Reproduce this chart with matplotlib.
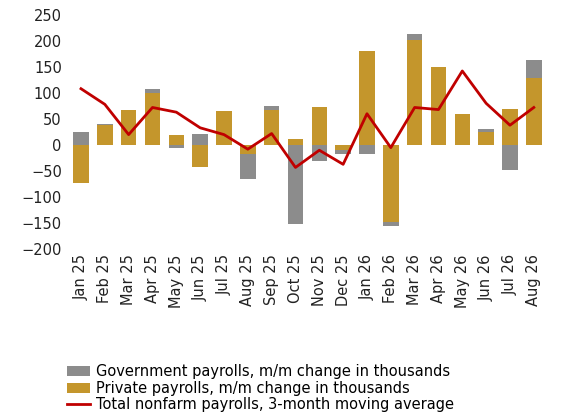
import matplotlib.pyplot as plt
import numpy as np

months = ["Jan 25", "Feb 25", "Mar 25", "Apr 25", "May 25", "Jun 25", "Jul 25",
          "Aug 25", "Sep 25", "Oct 25", "Nov 25", "Dec 25", "Jan 26", "Feb 26",
          "Mar 26", "Apr 26", "May 26", "Jun 26", "Jul 26", "Aug 26"]
private = [-72, 38, 67, 100, 20, -43, 65, -18, 68, 12, 72, -10, 180, -147,
           202, 150, 60, 25, 70, 128]
government = [25, 3, 0, 7, -6, 22, 0, -48, 7, -152, -30, -8, -18, -8,
              10, 0, 0, 5, -48, 35]
moving_avg = [108, 78, 20, 72, 63, 33, 20, -8, 22, -43, -10, -37, 60, -5,
              72, 68, 142, 80, 38, 72]

gov_col = "#8c8c8c"
priv_col = "#c4962c"
line_col = "#c00000"

fig = plt.figure(figsize=(5.8, 4.19), dpi=100)
ax = fig.add_axes([0.115, 0.405, 0.83, 0.56])
x = np.arange(len(months))
priv = np.array(private)
gov = np.array(government)
# gov stacks on private when signs match, otherwise starts from zero
gov_bottom = np.where(np.sign(gov) == np.sign(priv), priv, 0)

h_gov = ax.bar(x, gov, bottom=gov_bottom, width=0.65, color=gov_col)
h_priv = ax.bar(x, priv, width=0.65, color=priv_col)
h_line, = ax.plot(x, moving_avg, color=line_col, lw=2, zorder=3)

ax.set_ylim(-200, 250)
ax.set_yticks(range(-200, 251, 50))
ax.set_xlim(-0.6, len(months) - 0.4)
ax.set_xticks(x)
ax.set_xticklabels(months, rotation=90)
ax.tick_params(length=0, labelsize=10.5, colors="#222222")
for s in ax.spines.values():
    s.set_visible(False)

fig.legend([h_gov, h_priv, h_line],
           ["Government payrolls, m/m change in thousands",
            "Private payrolls, m/m change in thousands",
            "Total nonfarm payrolls, 3-month moving average"],
           loc="lower left", bbox_to_anchor=(0.1, -0.005), frameon=False,
           fontsize=10.5, handlelength=1.6, handletextpad=0.4, labelspacing=0.1,
           borderaxespad=0.2)
fig.savefig("out.png", dpi=100)
